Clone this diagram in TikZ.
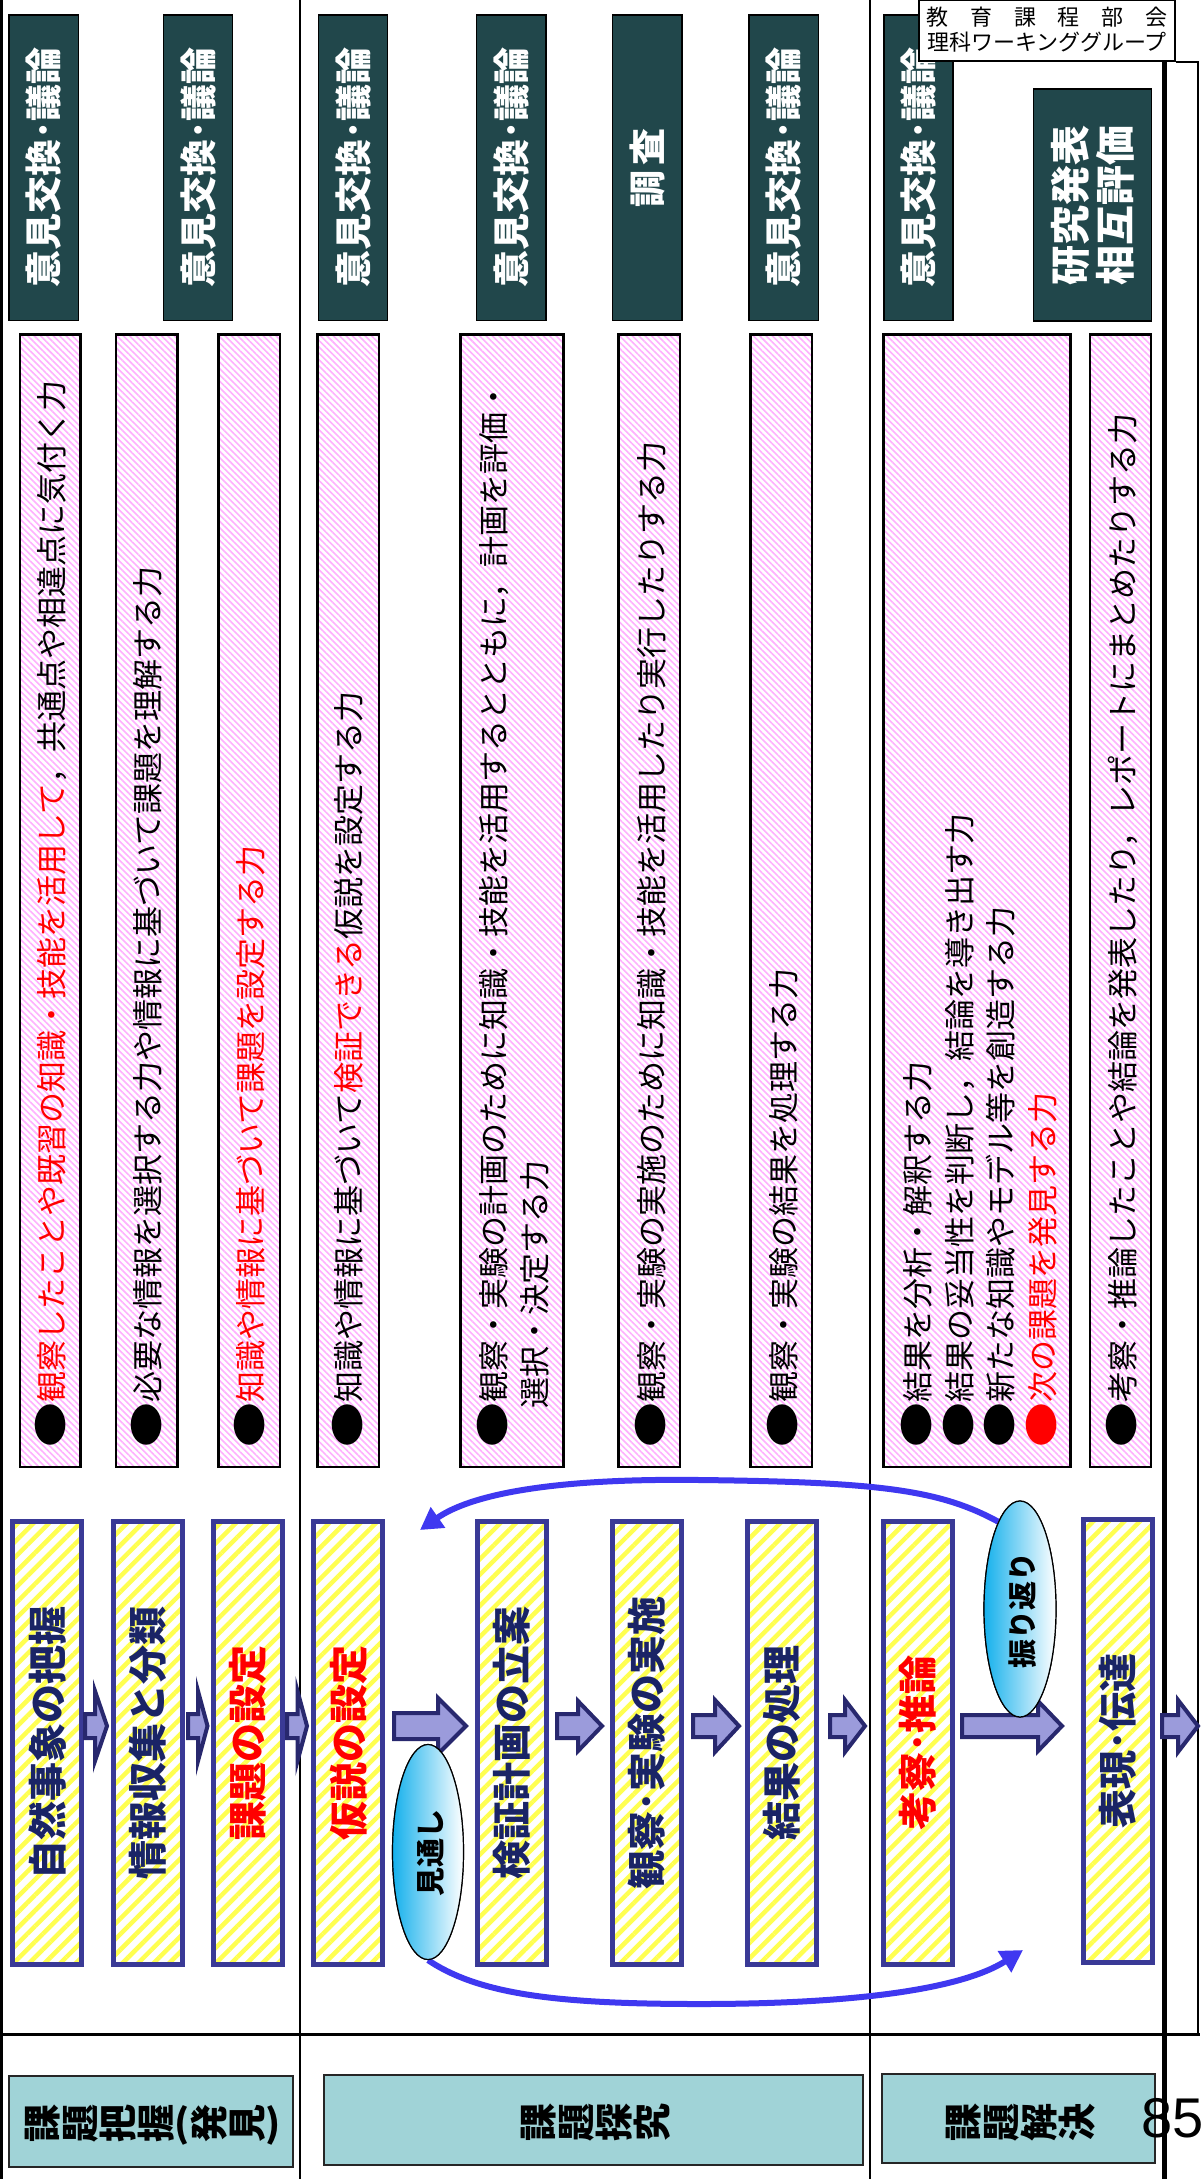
\documentclass[tikz,border=0pt]{standalone}
\usepackage{fontspec}
\newfontfamily\jp{Noto Sans CJK JP}
\newfontfamily\lib{Liberation Sans}
\usetikzlibrary{patterns.meta,arrows.meta,shapes.geometric,calc}
\definecolor{gfill}{HTML}{21474B}
\definecolor{lblfill}{HTML}{A0D3D7}
\definecolor{ybord}{HTML}{3A3A96}
\definecolor{ystripe}{HTML}{FFFF50}
\definecolor{navytext}{HTML}{1A2466}
\definecolor{pstripe}{HTML}{FFB0FF}
\definecolor{arfill}{HTML}{9B9BDB}
\definecolor{arbord}{HTML}{28286E}
\definecolor{loopcol}{HTML}{3F38F0}
\definecolor{ecyan}{HTML}{14B0EC}
\newcommand{\rc}[1]{\rotatebox[origin=c]{90}{\makebox[1em]{\rule[-0.12em]{0pt}{1em}#1}}}
\newcommand{\bul}{\scalebox{1.45}[1.1]{●}}
\newcommand{\barr}[5]{\draw[barrow] (#1,1726-#4) -- (#2,1726-#4) -- (#2,1726-#5) -- (#3,1726) -- (#2,1726+#5) -- (#2,1726+#4) -- (#1,1726+#4) -- cycle;}
\begin{document}
\begin{tikzpicture}[x=1pt,y=-1pt,
  gbox/.style={draw=black, line width=1.5pt, fill=gfill, minimum width=69.3pt, minimum height=305.5pt, inner sep=0pt},
  gtext/.style={rotate=90, text=white, font=\jp\bfseries\fontsize{37}{37}\selectfont, inner sep=0pt},
  pbox/.style={draw=black, line width=2.5pt, preaction={fill=white}, pattern={Lines[angle=-45,distance=4.5pt,line width=1.6pt]}, pattern color=pstripe, minimum height=1132.5pt, inner sep=0pt},
  ptext/.style={rotate=90, anchor=west, align=left, inner sep=0pt, font=\jp\fontsize{31}{41.5}\selectfont},
  ybox/.style={draw=ybord, line width=5pt, preaction={fill=white}, pattern={Lines[angle=45,distance=11pt,line width=4.5pt]}, pattern color=ystripe, minimum width=69pt, minimum height=443pt, inner sep=0pt},
  ytext/.style={rotate=90, inner sep=0pt, text=navytext, font=\jp\bfseries\fontsize{39}{39}\selectfont},
  barrow/.style={draw=arbord, fill=arfill, line width=4pt, line join=miter},
  oval/.style={ellipse, draw=black, line width=1.2pt, left color=ecyan, right color=white, minimum width=71pt, minimum height=215pt, inner sep=0pt},
  otext/.style={rotate=90, inner sep=0pt, font=\jp\bfseries\fontsize{29}{29}\selectfont},
  lbox/.style={draw=black!85, line width=2pt, fill=lblfill, inner sep=0pt},
  ltext/.style={inner sep=0pt, font=\jp\bfseries\fontsize{38}{38}\selectfont},
  loopline/.style={draw=loopcol, line width=6pt, -{Triangle[length=22pt,width=24pt]}}
]
\useasboundingbox (0,0) rectangle (1200,2179);
\fill[white] (0,0) rectangle (1200,2179);

% frame lines
\draw[line width=3pt] (1.5,0) -- (1.5,2179);
\draw[line width=2.5pt] (300,0) -- (300,2179);
\draw[line width=2.5pt] (870,0) -- (870,2179);
\draw[line width=3pt] (0,2034) -- (1200,2034);
\draw[line width=4.5pt] (1164.5,61) -- (1164.5,2179);
\draw[line width=2pt] (1176,62) -- (1198,62) -- (1198,2034);

% green boxes
\node[gbox] (g1) at (43.8,167.5) {};
\node[gbox] (g2) at (198,167.5) {};
\node[gbox] (g3) at (353,167.5) {};
\node[gbox] (g4) at (511.1,167.5) {};
\node[gbox] (g5) at (647.1,167.5) {};
\node[gbox] (g6) at (783.8,167.5) {};
\node[gbox] (g7) at (918.5,167.5) {};
\node[gbox, minimum width=118pt, minimum height=232pt] (g8) at (1092.3,205) {};
\node[gtext] (g1t) at (g1) {意見交換･議論};
\node[gtext] (g2t) at (g2) {意見交換･議論};
\node[gtext] (g3t) at (g3) {意見交換･議論};
\node[gtext] (g4t) at (g4) {意見交換･議論};
\node[gtext] (g5t) at (g5) {調\hspace{5pt}査};
\node[gtext] (g6t) at (g6) {意見交換･議論};
\node[gtext] (g7t) at (g7) {意見交換･議論};
\node[gtext, align=center, font=\jp\bfseries\fontsize{40}{45}\selectfont] (g8t) at (g8) {研究発表\\相互評価};

% pink boxes
\node[pbox, minimum width=60.5pt] (p1) at (50,900.5) {};
\node[pbox, minimum width=61.5pt] (p2) at (146.8,900.5) {};
\node[pbox, minimum width=61.5pt] (p3) at (249.4,900.5) {};
\node[pbox, minimum width=61.5pt] (p4) at (348,900.5) {};
\node[pbox, minimum width=103pt] (p5) at (511.8,900.5) {};
\node[pbox, minimum width=61.5pt] (p6) at (649,900.5) {};
\node[pbox, minimum width=61.5pt] (p7) at (781,900.5) {};
\node[pbox, minimum width=187pt] (p8) at (977.2,900.5) {};
\node[pbox, minimum width=61pt] (p9) at (1120.4,900.5) {};
\node[ptext] (p1t) at (51,1448) {\bul{\color{red}観察したことや既習の知識・技能を活用して}，共通点や相違点に気付く力};
\node[ptext] (p2t) at (147,1448) {\bul 必要な情報を選択する力や情報に基づいて課題を理解する力};
\node[ptext] (p3t) at (250,1448) {\bul{\color{red}知識や情報に基づいて課題を設定する力}};
\node[ptext] (p4t) at (348,1448) {\bul 知識や情報に基づいて{\color{red}検証できる}仮説を設定する力};
\node[ptext] (p5t) at (513,1448) {\bul 観察・実験の計画のために知識・技能を活用するとともに，計画を評価・\\\hspace{39pt}選択・決定する力};
\node[ptext] (p6t) at (651,1448) {\bul 観察・実験の実施のために知識・技能を活用したり実行したりする力};
\node[ptext] (p7t) at (783,1448) {\bul 観察・実験の結果を処理する力};
\node[ptext] (p8t) at (979,1448) {\bul 結果を分析・解釈する力\\\bul 結果の妥当性を判断し，結論を導き出す力\\\bul 新たな知識やモデル等を創造する力\\{\color{red}\bul 次の課題を発見する力}};
\node[ptext] (p9t) at (1122,1448) {\bul 考察・推論したことや結論を発表したり，レポートにまとめたりする力};

% yellow process boxes
\node[ybox] (y1) at (47.3,1743) {};
\node[ybox] (y2) at (148,1743) {};
\node[ybox] (y3) at (248,1743) {};
\node[ybox] (y4) at (348.4,1743) {};
\node[ybox] (y5) at (511.5,1743) {};
\node[ybox] (y6) at (647,1743) {};
\node[ybox] (y7) at (782,1743) {};
\node[ybox] (y8) at (917.5,1743) {};
\node[ybox] (y9) at (1118,1741) {};
\node[ytext] (y1t) at (y1) {自然事象の把握};
\node[ytext] (y2t) at (y2) {情報収集と分類};
\node[ytext, text=red] (y3t) at (y3) {課題の設定};
\node[ytext, text=red] (y4t) at (y4) {仮説の設定};
\node[ytext] (y5t) at (y5) {検証計画の立案};
\node[ytext] (y6t) at (y6) {観察･実験の実施};
\node[ytext] (y7t) at (y7) {結果の処理};
\node[ytext, text=red] (y8t) at (y8) {考察･推論};
\node[ytext] (y9t) at (y9) {表現･伝達};

% block arrows
\barr{85}{95}{107}{12}{35}
\barr{188}{198}{207.5}{12}{35}
\barr{287}{297.5}{307}{12}{35}
\barr{394}{438}{466}{13}{28}
\barr{557}{578}{602}{12}{25}
\barr{693}{715}{739}{11}{26}
\barr{830}{845}{865}{11}{26}
\barr{962}{1038}{1062}{11}{25}
\barr{1162}{1178}{1198}{11}{26}

% ellipses (nodes first for anchors)
\node[oval] (e1) at (428,1852) {};
\node[oval, minimum width=72pt, minimum height=216pt] (e2) at (1020,1609) {};

% loop curves
\coordinate (lt) at (1023,1950);
\coordinate (ut) at (420,1530);
\draw[loopline] (e1.south) .. controls (480,1995) and (560,2004) .. (700,2004) .. controls (850,2004) and (960,1990) .. (lt);
\draw[loopline] (e2.104) .. controls (940,1490) and (880,1482) .. (700,1480) .. controls (550,1478) and (470,1495) .. (ut);

% redraw ellipses on top
\node[oval] (e1b) at (428,1852) {};
\node[oval, minimum width=72pt, minimum height=216pt] (e2b) at (1020,1609) {};
\node[otext] (e1t) at (431,1853) {見通し};
\node[otext] (e2t) at (1022,1610) {振り返り};

% bottom labels
\node[lbox, minimum width=283.6pt, minimum height=91pt] (l1) at (151.2,2121.5) {};
\node[lbox, minimum width=539.4pt, minimum height=90pt] (l2) at (593.3,2120) {};
\node[lbox, minimum width=273pt, minimum height=89pt] (l3) at (1018.5,2118.5) {};
\node[ltext] (l1t) at (151.8,2125) {\rc{課}\rc{題}\rc{把}\rc{握}(\rc{発}\rc{見})};
\node[ltext] (l2t) at (595,2122) {\rc{課}\rc{題}\rc{探}\rc{究}};
\node[ltext] (l3t) at (1020,2122) {\rc{課}\rc{題}\rc{解}\rc{決}};

% header
\node[draw=black, line width=2pt, fill=white, minimum width=256pt, minimum height=61pt, inner sep=0pt, align=center, font=\jp\fontsize{22}{25}\selectfont] (hdr) at (1047,30) {\makebox[241pt][s]{教\hfill 育\hfill 課\hfill 程\hfill 部\hfill 会}\\理科ワーキンググループ};

% page number
\node[anchor=base west, inner sep=0pt, font=\lib\fontsize{56}{56}\selectfont] (pg) at (1141,2137) {85};
\end{tikzpicture}
\end{document}
